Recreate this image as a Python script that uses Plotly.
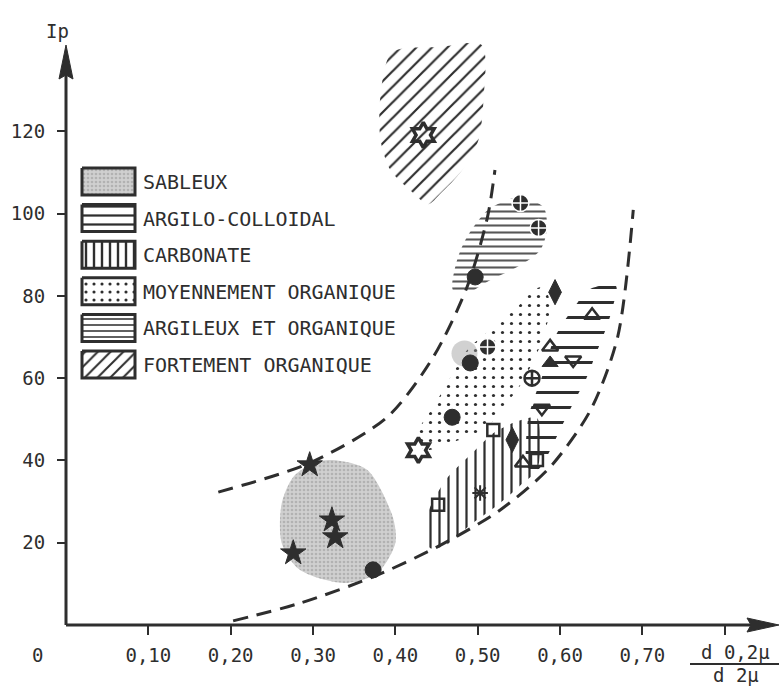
import plotly.graph_objects as go

# ---------------- data ----------------
X_TICKS = [0.1, 0.2, 0.3, 0.4, 0.5, 0.6, 0.7, 0.8]
X_TICK_LABELS = ["0,10", "0,20", "0,30", "0,40", "0,50", "0,60", "0,70", ""]
Y_TICKS = [20, 40, 60, 80, 100, 120]
Y_TICK_LABELS = ["20", "40", "60", "80", "100", "120"]

LEGEND_LABELS = ["SABLEUX", "ARGILO-COLLOIDAL", "CARBONATE",
                 "MOYENNEMENT ORGANIQUE", "ARGILEUX ET ORGANIQUE",
                 "FORTEMENT ORGANIQUE"]

# zones (outline of each shaded domain)
sableux_x = [0.324, 0.366, 0.397, 0.400, 0.378, 0.337, 0.284, 0.262, 0.262, 0.276, 0.300]
sableux_y = [40.1, 37.7, 26.2, 19.9, 12.6, 10.2, 13.4, 19.9, 29.6, 36.0, 39.4]

argilo_x = [0.639, 0.668, 0.663, 0.655, 0.643, 0.631, 0.618, 0.600, 0.585, 0.573,
            0.561, 0.561, 0.570, 0.582, 0.592, 0.606, 0.621]
argilo_y = [81.9, 82.4, 76.5, 71.6, 65.6, 59.5, 54.7, 47.4, 41.3, 37.7,
            38.2, 49.8, 55.9, 62.5, 69.3, 74.1, 78.3]

carbonate_x = [0.439, 0.461, 0.491, 0.521, 0.552, 0.572, 0.576, 0.572, 0.552, 0.527,
               0.491, 0.461, 0.442]
carbonate_y = [26.7, 35.2, 41.3, 46.9, 49.8, 50.3, 45.0, 37.7, 34.0, 29.6,
               24.3, 19.4, 18.7]

moyen_x = [0.580, 0.588, 0.580, 0.564, 0.548, 0.527, 0.512, 0.487, 0.454, 0.439,
           0.426, 0.430, 0.446, 0.470, 0.487, 0.515, 0.548, 0.567]
moyen_y = [82.1, 78.2, 70.0, 62.7, 57.1, 52.2, 48.1, 45.7, 43.3, 42.5,
           44.2, 48.1, 53.0, 61.2, 66.8, 71.7, 77.3, 81.4]

argileux_x = [0.552, 0.580, 0.584, 0.576, 0.548, 0.515, 0.487, 0.470, 0.475, 0.487,
              0.512, 0.536]
argileux_y = [104.0, 101.6, 96.0, 91.1, 87.0, 83.8, 80.7, 81.4, 88.7, 94.3,
              100.8, 103.3]

fortement_x = [0.396, 0.454, 0.505, 0.507, 0.501, 0.482, 0.454, 0.440, 0.418, 0.394,
               0.382, 0.382]
fortement_y = [139.2, 140.5, 141.0, 127.6, 117.9, 110.8, 104.7, 102.3, 105.7, 110.6,
               117.9, 128.8]

# dashed limit curves
limite_haute_x = [0.185, 0.296, 0.390, 0.446, 0.487, 0.512, 0.521]
limite_haute_y = [32.3, 39.4, 50.5, 65.1, 82.1, 99.2, 110.6]
limite_basse_x = [0.203, 0.284, 0.373, 0.451, 0.527, 0.588, 0.637, 0.670, 0.689]
limite_basse_y = [1.0, 5.3, 11.7, 19.0, 27.9, 38.4, 52.2, 70.0, 100.9]

# samples, grouped by symbol
pts_cercle_croix_x = [0.552, 0.574, 0.512]
pts_cercle_croix_y = [102.6, 96.5, 67.6]
pts_cercle_croix_ouvert_x = [0.566]
pts_cercle_croix_ouvert_y = [60.0]
pts_cercle_x = [0.497, 0.491, 0.469, 0.373]
pts_cercle_y = [84.6, 63.7, 50.5, 13.4]
pts_losange_x = [0.594, 0.542]
pts_losange_y = [80.9, 45.0]
pts_triangle_x = [0.639, 0.588, 0.555]
pts_triangle_y = [75.3, 67.6, 39.4]
pts_triangle_plein_x = [0.588]
pts_triangle_plein_y = [63.7]
pts_triangle_bas_x = [0.616, 0.578]
pts_triangle_bas_y = [64.4, 52.7]
pts_carre_x = [0.519, 0.572, 0.452]
pts_carre_y = [47.4, 40.1, 29.2]
pts_asterisque_x = [0.503]
pts_asterisque_y = [32.1]
pts_etoile6_x = [0.434, 0.428]
pts_etoile6_y = [119.1, 42.5]
pts_etoile_x = [0.296, 0.323, 0.327, 0.276]
pts_etoile_y = [38.9, 25.5, 21.4, 17.5]
tache_x = [0.484]
tache_y = [66.0]

# ---------------- layout helpers ----------------
INK = "#2e2e2e"
FONT = "DejaVu Sans Mono"
W, H = 779, 688
L, R, T, B = 66, 0, 40, 63
XMAX = 0.866
YMAX = 142.2
PW, PH = W - L - R, H - T - B


def px_x(p):
    return (p - L) / PW * XMAX


def px_y(p):
    return (H - B - p) / PH * YMAX


def pap_x(p):
    return (p - L) / PW


def pap_y(p):
    return (H - B - p) / PH


CLEAR = "rgba(0,0,0,0)"
PATTERNS = {
    "SABLEUX": dict(shape=".", bgcolor="#d0d0d0", fgcolor="#b2b2b2", fgopacity=1, size=4, solidity=0.35),
    "ARGILO-COLLOIDAL": dict(shape="-", bgcolor=CLEAR, fgcolor=INK, fgopacity=1, size=15, solidity=0.2),
    "CARBONATE": dict(shape="|", bgcolor=CLEAR, fgcolor=INK, fgopacity=1, size=9, solidity=0.25),
    "MOYENNEMENT ORGANIQUE": dict(shape=".", bgcolor=CLEAR, fgcolor=INK, fgopacity=1, size=9, solidity=0.1),
    "ARGILEUX ET ORGANIQUE": dict(shape="-", bgcolor=CLEAR, fgcolor="#3a3a3a", fgopacity=0.85, size=7, solidity=0.3),
    "FORTEMENT ORGANIQUE": dict(shape="/", bgcolor=CLEAR, fgcolor=INK, fgopacity=1, size=11, solidity=0.2),
}
LEGEND_PATTERNS = {
    "SABLEUX": PATTERNS["SABLEUX"],
    "ARGILO-COLLOIDAL": dict(shape="-", bgcolor="white", fgcolor=INK, fgopacity=1, size=9, solidity=0.25),
    "CARBONATE": dict(shape="|", bgcolor="white", fgcolor=INK, fgopacity=1, size=8, solidity=0.3),
    "MOYENNEMENT ORGANIQUE": dict(shape=".", bgcolor="white", fgcolor=INK, fgopacity=1, size=8, solidity=0.12),
    "ARGILEUX ET ORGANIQUE": dict(shape="-", bgcolor="white", fgcolor=INK, fgopacity=0.85, size=6, solidity=0.3),
    "FORTEMENT ORGANIQUE": dict(shape="/", bgcolor="white", fgcolor=INK, fgopacity=1, size=9, solidity=0.22),
}

fig = go.Figure()


def add_zone(xs, ys, label):
    fig.add_trace(go.Scatter(
        x=xs + [xs[0]], y=ys + [ys[0]], mode="lines", fill="toself",
        line=dict(width=0, color=CLEAR, shape="spline", smoothing=0.8),
        fillcolor=CLEAR, fillpattern=PATTERNS[label],
        hoverinfo="skip", showlegend=False))


add_zone(sableux_x, sableux_y, "SABLEUX")
add_zone(fortement_x, fortement_y, "FORTEMENT ORGANIQUE")
add_zone(argileux_x, argileux_y, "ARGILEUX ET ORGANIQUE")
add_zone(moyen_x, moyen_y, "MOYENNEMENT ORGANIQUE")
add_zone(carbonate_x, carbonate_y, "CARBONATE")
add_zone(argilo_x, argilo_y, "ARGILO-COLLOIDAL")

fig.add_trace(go.Scatter(x=tache_x, y=tache_y, mode="markers",
                         marker=dict(size=26, color="#9a9a9a", opacity=0.45),
                         hoverinfo="skip", showlegend=False))

for cx, cy in [(limite_haute_x, limite_haute_y), (limite_basse_x, limite_basse_y)]:
    fig.add_trace(go.Scatter(x=cx, y=cy, mode="lines",
                             line=dict(color=INK, width=3, dash="15px,9px",
                                       shape="spline", smoothing=0.8),
                             hoverinfo="skip", showlegend=False))


def add_pts(xs, ys, symbol, size, color=INK, lcolor=INK, lw=2):
    fig.add_trace(go.Scatter(x=xs, y=ys, mode="markers",
                             marker=dict(symbol=symbol, size=size, color=color,
                                         line=dict(color=lcolor, width=lw)),
                             showlegend=False))


add_pts(pts_cercle_croix_x, pts_cercle_croix_y, "circle-cross", 17, INK, "white", 1.5)
add_pts(pts_cercle_croix_ouvert_x, pts_cercle_croix_ouvert_y, "circle-cross-open", 15, INK, INK, 2.5)
add_pts(pts_cercle_x, pts_cercle_y, "circle", 16, INK, INK, 1)
add_pts(pts_losange_x, pts_losange_y, "diamond-tall", 18, INK, INK, 1)
add_pts(pts_triangle_x, pts_triangle_y, "triangle-up-open", 14, INK, INK, 2.5)
add_pts(pts_triangle_plein_x, pts_triangle_plein_y, "triangle-up", 14, INK, INK, 1)
add_pts(pts_triangle_bas_x, pts_triangle_bas_y, "triangle-down-open", 14, INK, INK, 2.5)
add_pts(pts_carre_x, pts_carre_y, "square-open", 12, INK, INK, 2.5)
add_pts(pts_asterisque_x, pts_asterisque_y, "asterisk-open", 13, INK, INK, 2)
add_pts(pts_etoile6_x, pts_etoile6_y, "hexagram-open", 19, INK, INK, 3.5)
add_pts(pts_etoile_x, pts_etoile_y, "star", 19, INK, INK, 1)

# ---------------- legend (drawn) ----------------
annotations = []
for i, label in enumerate(LEGEND_LABELS):
    top = 168 + i * 36.6
    bx = [px_x(82), px_x(135), px_x(135), px_x(82), px_x(82)]
    by = [px_y(top), px_y(top), px_y(top + 27), px_y(top + 27), px_y(top)]
    fig.add_trace(go.Scatter(x=bx, y=by, mode="lines", fill="toself",
                             line=dict(color=INK, width=3),
                             fillcolor="white", fillpattern=LEGEND_PATTERNS[label],
                             hoverinfo="skip", showlegend=False))
    annotations.append(dict(x=px_x(141), y=px_y(top + 14), xref="x", yref="y",
                            text=label, showarrow=False, xanchor="left",
                            yanchor="middle",
                            font=dict(family=FONT, size=20, color=INK)))


def label(px, py, text, size=19):
    return dict(x=pap_x(px), y=pap_y(py), xref="paper", yref="paper", text=text,
                showarrow=False, xanchor="center", yanchor="middle",
                font=dict(family=FONT, size=size, color=INK))


annotations += [
    label(57, 31, "Ip"),
    label(37, 655, "0"),
    label(735, 652, "d 0,2μ"),
    label(736, 675, "d 2μ"),
]

shapes = [
    # axes
    dict(type="line", xref="paper", yref="paper", x0=0, y0=0, x1=0, y1=pap_y(70),
         line=dict(color=INK, width=3)),
    dict(type="line", xref="paper", yref="paper", x0=0, y0=0, x1=pap_x(760), y1=0,
         line=dict(color=INK, width=3)),
    # arrowheads
    dict(type="path", xref="paper", yref="paper", xsizemode="pixel", ysizemode="pixel",
         xanchor=0, yanchor=pap_y(45), path="M0,0 L-7,-34 L0,-30 L7,-34 Z",
         fillcolor=INK, line=dict(color=INK, width=1)),
    dict(type="path", xref="paper", yref="paper", xsizemode="pixel", ysizemode="pixel",
         xanchor=pap_x(779), yanchor=0, path="M0,0 L-32,7 L-28,0 L-32,-7 Z",
         fillcolor=INK, line=dict(color=INK, width=1)),
    # fraction bar
    dict(type="line", xref="paper", yref="paper", x0=pap_x(690), y0=pap_y(664),
         x1=pap_x(779), y1=pap_y(664), line=dict(color=INK, width=2)),
]

fig.update_layout(
    width=W, height=H, margin=dict(l=L, r=R, t=T, b=B),
    paper_bgcolor="white", plot_bgcolor="white",
    showlegend=False, annotations=annotations, shapes=shapes,
    xaxis=dict(range=[0, XMAX], tickvals=X_TICKS, ticktext=X_TICK_LABELS,
               ticks="outside", ticklen=9, tickwidth=2, tickcolor=INK,
               tickfont=dict(family=FONT, size=19, color=INK),
               ticklabelstandoff=4,
               showgrid=False, zeroline=False, showline=False, fixedrange=True),
    yaxis=dict(range=[0, YMAX], tickvals=Y_TICKS, ticktext=Y_TICK_LABELS,
               ticks="outside", ticklen=8, tickwidth=2, tickcolor=INK,
               tickfont=dict(family=FONT, size=19, color=INK),
               ticklabelstandoff=8,
               showgrid=False, zeroline=False, showline=False, fixedrange=True),
)

fig.write_html("out.html")
